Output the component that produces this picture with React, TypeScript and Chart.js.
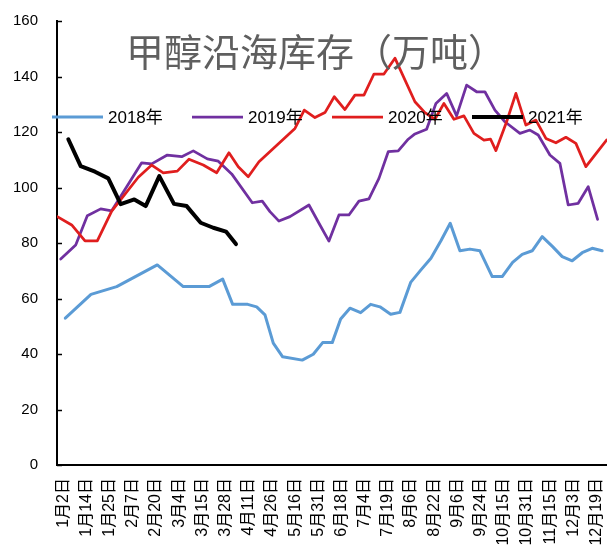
import { useEffect, useRef } from 'react';
import { Chart, registerables } from 'chart.js';

Chart.register(...registerables);

const TITLE = '甲醇沿海库存（万吨）';

const categories = [
  '1月2日', '1月14日', '1月25日', '2月7日', '2月20日', '3月4日', '3月15日', '3月28日',
  '4月11日', '4月26日', '5月16日', '5月31日', '6月18日', '7月4日', '7月19日', '8月6日',
  '8月22日', '9月6日', '9月24日', '10月15日', '10月31日', '11月15日', '12月3日', '12月19日',
];

const yTickValues = [0, 20, 40, 60, 80, 100, 120, 140, 160];

const seriesNames = ['2018年', '2019年', '2020年', '2021年'];
const seriesColors = ['#5B9BD5', '#7030A0', '#E01E1E', '#000000'];
const seriesWidths = [3, 2.75, 2.75, 4];

// x positions are in category units (0 = first category label)
const x2018 = [0.086, 1.194, 2.303, 4.053, 5.175, 6.283, 6.874, 7.305, 7.952, 8.34, 8.698, 9.056, 9.461, 10.306, 10.781, 11.186, 11.6, 11.962, 12.363, 12.824, 13.256, 13.657, 14.118, 14.519, 14.981, 15.425, 15.856, 16.287, 16.688, 17.106, 17.538, 17.969, 18.499, 18.93, 19.379, 19.793, 20.224, 20.655, 21.104, 21.518, 21.949, 22.38, 22.811, 23.243];
const v2018 = [52.9, 61.5, 64.3, 72.1, 64.3, 64.3, 67.0, 57.9, 57.9, 57.0, 54.1, 43.9, 39.0, 37.8, 39.9, 44.1, 44.1, 52.6, 56.5, 54.9, 57.9, 57.0, 54.3, 55.0, 65.8, 70.3, 74.5, 80.8, 87.1, 77.2, 77.8, 77.2, 67.9, 67.9, 73.0, 75.9, 77.2, 82.3, 78.7, 75.1, 73.6, 76.5, 78.1, 77.2];

const x2019 = [-0.112, 0.535, 1.035, 1.613, 2.087, 3.381, 3.812, 4.485, 5.106, 5.606, 6.21, 6.684, 7.262, 8.15, 8.581, 8.913, 9.301, 9.776, 10.595, 11.069, 11.457, 11.889, 12.32, 12.751, 13.182, 13.614, 14.015, 14.446, 14.877, 15.166, 15.67, 16.071, 16.533, 16.964, 17.395, 17.826, 18.184, 18.616, 19.047, 19.694, 20.125, 20.483, 20.988, 21.419, 21.777, 22.208, 22.639, 23.044];
const v2019 = [74.2, 79.3, 89.8, 92.3, 91.6, 108.9, 108.5, 111.7, 111.1, 113.2, 110.3, 109.5, 104.9, 94.5, 95.1, 91.3, 87.9, 89.5, 93.7, 86.5, 80.7, 90.1, 90.1, 95.1, 95.9, 103.3, 112.9, 113.2, 117.4, 119.3, 121.0, 130.3, 133.9, 125.8, 136.9, 134.5, 134.5, 127.9, 123.7, 119.5, 120.7, 118.9, 111.7, 108.7, 93.7, 94.3, 100.3, 88.5];

const x2020 = [-0.259, 0.362, 0.936, 1.466, 2.087, 3.234, 3.812, 4.312, 4.916, 5.42, 6.037, 6.615, 7.145, 7.546, 7.977, 8.439, 9.991, 10.392, 10.854, 11.285, 11.686, 12.147, 12.579, 12.967, 13.398, 13.829, 14.304, 15.166, 15.597, 16.028, 16.417, 16.848, 17.279, 17.71, 18.141, 18.43, 18.659, 19.12, 19.521, 19.952, 20.384, 20.815, 21.246, 21.677, 22.108, 22.539, 23.001, 23.432];
const v2020 = [89.5, 86.5, 80.8, 80.8, 91.5, 103.7, 108.1, 105.3, 105.9, 110.2, 108.1, 105.3, 112.5, 107.5, 103.9, 109.3, 121.3, 127.9, 125.2, 127.0, 132.7, 128.1, 133.3, 133.3, 140.9, 140.9, 146.6, 130.9, 127.0, 124.6, 130.3, 124.6, 125.8, 119.5, 117.1, 117.4, 113.3, 123.7, 133.9, 122.5, 124.3, 117.7, 116.1, 118.1, 115.9, 107.5, 112.5, 117.1];

const x2021 = [0.216, 0.75, 1.367, 1.94, 2.475, 3.062, 3.553, 4.14, 4.774, 5.321, 5.925, 6.468, 7.016, 7.447];
const v2021 = [117.4, 107.7, 105.7, 103.3, 94.0, 95.7, 93.3, 104.1, 94.1, 93.3, 87.3, 85.5, 84.1, 79.6];

const seriesX = [x2018, x2019, x2020, x2021];
const seriesV = [v2018, v2019, v2020, v2021];

const FONT_LATIN = '"Liberation Sans", Arial, "Noto Sans CJK SC", sans-serif';

const overlayPlugin = {
  id: 'overlay',
  afterDraw(chart: any) {
    const { ctx, chartArea, scales } = chart;
    ctx.save();
    // inward tick marks on y axis
    ctx.strokeStyle = '#000';
    ctx.lineWidth = 1.5;
    scales.y.ticks.forEach((t: any) => {
      const y = Math.round(scales.y.getPixelForValue(t.value)) + 0.5;
      ctx.beginPath();
      ctx.moveTo(chartArea.left, y);
      ctx.lineTo(chartArea.left + 5, y);
      ctx.stroke();
    });
    // title
    ctx.fillStyle = '#5f5f5f';
    ctx.font = '38px "Noto Sans CJK SC", sans-serif';
    ctx.textAlign = 'center';
    ctx.textBaseline = 'middle';
    ctx.fillText(TITLE, 316, 52);
    // legend
    ctx.textAlign = 'left';
    ctx.font = '17px ' + FONT_LATIN;
    chart.data.datasets.forEach((ds: any, i: number) => {
      const x0 = 52 + i * 140;
      const y = 117;
      ctx.strokeStyle = ds.borderColor;
      ctx.lineWidth = ds.borderWidth;
      ctx.lineCap = 'butt';
      ctx.beginPath();
      ctx.moveTo(x0, y);
      ctx.lineTo(x0 + 51, y);
      ctx.stroke();
      ctx.fillStyle = '#000';
      ctx.fillText(ds.label, x0 + 56, y + 1);
    });
    ctx.restore();
  },
};

export default function App() {
  const ref = useRef<HTMLCanvasElement | null>(null);
  useEffect(() => {
    if (!ref.current) return;
    const datasets = seriesNames.map((name, i) => ({
      label: name,
      data: seriesX[i].map((x, j) => ({ x, y: seriesV[i][j] })),
      borderColor: seriesColors[i],
      backgroundColor: seriesColors[i],
      borderWidth: seriesWidths[i],
      pointRadius: 0,
      tension: 0,
      fill: false,
      borderJoinStyle: 'round' as const,
      borderCapStyle: 'round' as const,
      order: seriesNames.length - i,
    }));
    const chart = new Chart(ref.current, {
      type: 'line',
      data: { datasets },
      plugins: [overlayPlugin],
      options: {
        animation: false,
        responsive: false,
        devicePixelRatio: 1,
        layout: { padding: { top: 21, left: 0, right: 0, bottom: 0 } },
        plugins: { legend: { display: false }, tooltip: { enabled: false }, title: { display: false } },
        scales: {
          x: {
            type: 'linear',
            min: -0.272,
            max: 23.45,
            grid: { display: false, drawTicks: false },
            border: { display: true, color: '#000', width: 2 },
            afterBuildTicks: (scale: any) => {
              scale.ticks = categories.map((_, i) => ({ value: i }));
            },
            afterFit: (scale: any) => {
              scale.height = 89;
              scale.paddingLeft = 0;
              scale.paddingRight = 0;
              scale.paddingTop = 0;
              scale.paddingBottom = 0;
            },
            ticks: {
              autoSkip: false,
              minRotation: 90,
              maxRotation: 90,
              padding: 13,
              color: '#000',
              font: { size: 16, family: FONT_LATIN },
              callback: (v: any) => categories[v] ?? '',
            },
          },
          y: {
            type: 'linear',
            min: 0,
            max: 160,
            grid: { display: false, drawTicks: false },
            border: { display: true, color: '#000', width: 2 },
            afterBuildTicks: (scale: any) => {
              scale.ticks = yTickValues.map((v) => ({ value: v }));
            },
            afterFit: (scale: any) => {
              scale.width = 57;
              scale.paddingLeft = 0;
              scale.paddingRight = 0;
              scale.paddingTop = 0;
              scale.paddingBottom = 0;
            },
            ticks: {
              padding: 19,
              color: '#000',
              font: { size: 15, family: FONT_LATIN },
            },
          },
        },
      },
    });
    return () => chart.destroy();
  }, []);
  return (
    <div style={{ position: 'absolute', left: 0, top: 0, width: 607, height: 554, background: '#fff' }}>
      <canvas ref={ref} width={607} height={554} />
    </div>
  );
}
